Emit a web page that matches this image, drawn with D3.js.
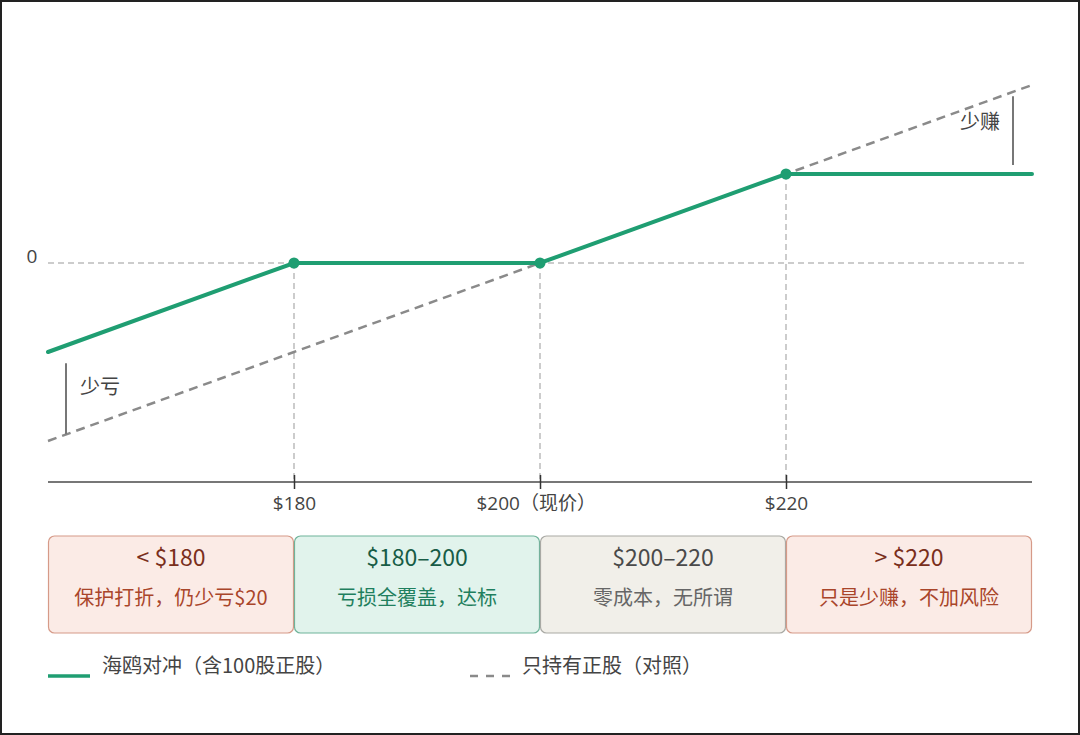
<!DOCTYPE html>
<html lang="zh">
<head>
<meta charset="utf-8">
<title>海鸥对冲 收益图</title>
<script src="https://cdn.jsdelivr.net/npm/d3@7"></script>
<style>
html, body { margin: 0; padding: 0; background: #fff; }
svg { display: block; font-family: "Noto Sans CJK SC", "Noto Sans", sans-serif; }
</style>
</head>
<body>
<div id="chart"></div>
<script>
// data
var prices = [160, 180, 200, 220, 240];
var hedgePnl = [-20, 0, 0, 20, 20];
var stockPnl = [-40, -20, 0, 20, 40];
var keyPrices = [180, 200, 220];
var tickLabels = ["$180", "$200（现价）", "$220"];
var zoneTitles = ["< $180", "$180–200", "$200–220", "> $220"];
var zoneNotes = ["保护打折，仍少亏$20", "亏损全覆盖，达标", "零成本，无所谓", "只是少赚，不加风险"];
var zoneBounds = [160, 180, 200, 220, 240];
var legendNames = ["海鸥对冲（含100股正股）", "只持有正股（对照）"];

var W = 1080, H = 735;
var green = "#1f9e72", grey = "#8a8a8a";

var svg = d3.select("#chart").append("svg")
    .attr("width", W).attr("height", H);

svg.append("rect")
    .attr("x", 1).attr("y", 1).attr("width", W - 2).attr("height", H - 2)
    .attr("fill", "#fff").attr("stroke", "#222").attr("stroke-width", 2);

var x = d3.scaleLinear().domain([160, 240]).range([48, 1032]);
var y = d3.scaleLinear().domain([-40, 40]).range([441, 85]);
var axisY = 482;

var hedge = prices.map(function(p, i) { return [p, hedgePnl[i]]; });
var stock = prices.map(function(p, i) { return [p, stockPnl[i]]; });
var line = d3.line().x(function(d) { return x(d[0]); }).y(function(d) { return y(d[1]); });

// zero line
svg.append("line")
    .attr("x1", x(160)).attr("x2", x(240) - 4)
    .attr("y1", y(0)).attr("y2", y(0))
    .attr("stroke", "#999").attr("stroke-width", 1).attr("stroke-dasharray", "6,4");
svg.append("text")
    .attr("x", 32).attr("y", 258).attr("dominant-baseline", "middle")
    .attr("text-anchor", "middle").attr("font-size", 19).attr("fill", "#444")
    .attr("font-family", "'Open Sans', sans-serif")
    .text("0");

// vertical guides
keyPrices.forEach(function(p) {
  var v = hedgePnl[prices.indexOf(p)];
  svg.append("line")
      .attr("x1", x(p)).attr("x2", x(p))
      .attr("y1", y(v)).attr("y2", axisY)
      .attr("stroke", "#999").attr("stroke-width", 1).attr("stroke-dasharray", "6,4");
});

// x axis
var xAxis = d3.axisBottom(x).tickValues(keyPrices).tickSize(7)
    .tickFormat(function(d, i) { return tickLabels[i]; });
var ax = svg.append("g").attr("transform", "translate(0," + axisY + ")").call(xAxis);
ax.select(".domain").attr("stroke", "#777").attr("stroke-width", 2)
    .attr("d", "M" + x(160) + ",0H" + x(240));
ax.selectAll(".tick line").attr("stroke", "#333").attr("stroke-width", 1.5).attr("y1", -7);
ax.selectAll(".tick text").attr("font-size", 19).attr("fill", "#444")
    .attr("font-family", "'Open Sans', 'Noto Sans CJK SC', sans-serif").attr("dy", "0.95em");
ax.selectAll(".tick text").filter(function(d) { return d === 200; })
    .attr("text-anchor", "start").attr("dx", -64);

// stock only (dashed)
svg.append("path").datum(stock)
    .attr("d", line).attr("fill", "none")
    .attr("stroke", grey).attr("stroke-width", 2.5).attr("stroke-dasharray", "9,6");

// hedge line
svg.append("path").datum(hedge)
    .attr("d", line).attr("fill", "none")
    .attr("stroke", green).attr("stroke-width", 4).attr("stroke-linecap", "round");

svg.selectAll("circle.kp").data(keyPrices).enter().append("circle")
    .attr("cx", function(d) { return x(d); })
    .attr("cy", function(d) { return y(hedgePnl[prices.indexOf(d)]); })
    .attr("r", 5.5).attr("fill", green);

// annotations
svg.append("line")
    .attr("x1", 66).attr("x2", 66).attr("y1", y(-22.5)).attr("y2", y(-38.5))
    .attr("stroke", "#777").attr("stroke-width", 2);
svg.append("text").attr("x", 80).attr("y", 389).attr("dominant-baseline", "middle")
    .attr("font-size", 20).attr("fill", "#444").text("少亏");

svg.append("line")
    .attr("x1", 1013).attr("x2", 1013).attr("y1", y(37.5)).attr("y2", y(22))
    .attr("stroke", "#777").attr("stroke-width", 2);
svg.append("text").attr("x", 1000).attr("y", 124).attr("dominant-baseline", "middle")
    .attr("text-anchor", "end").attr("font-size", 20).attr("fill", "#444").text("少赚");

// zone boxes
var fills = ["#fbebe6", "#e1f3ec", "#f1efe9", "#fbebe6"];
var strokes = ["#d69a88", "#6fb39a", "#a9a9a4", "#d69a88"];
var titleColors = ["#7a2f1c", "#175c46", "#4a4a4a", "#7a2f1c"];
var noteColors = ["#a9452a", "#1f7f5e", "#666", "#a9452a"];
zoneTitles.forEach(function(t, i) {
  var x0 = x(zoneBounds[i]) + 0.5, x1 = x(zoneBounds[i + 1]) - 0.5;
  var g = svg.append("g");
  g.append("rect")
      .attr("x", x0).attr("y", 536).attr("width", x1 - x0).attr("height", 97)
      .attr("rx", 6).attr("fill", fills[i]).attr("stroke", strokes[i]).attr("stroke-width", 1.2);
  g.append("text").attr("x", (x0 + x1) / 2).attr("y", 560).attr("dominant-baseline", "middle")
      .attr("text-anchor", "middle").attr("font-size", 23).attr("fill", titleColors[i]).text(t);
  g.append("text").attr("x", (x0 + x1) / 2).attr("y", 600).attr("dominant-baseline", "middle")
      .attr("text-anchor", "middle").attr("font-size", 20).attr("fill", noteColors[i]).text(zoneNotes[i]);
});

// legend
svg.append("line").attr("x1", 48).attr("x2", 90).attr("y1", 676).attr("y2", 676)
    .attr("stroke", green).attr("stroke-width", 3.5);
svg.append("text").attr("x", 102).attr("y", 668).attr("dominant-baseline", "middle")
    .attr("font-size", 20).attr("fill", "#444").text(legendNames[0]);
svg.append("line").attr("x1", 470).attr("x2", 512).attr("y1", 676).attr("y2", 676)
    .attr("stroke", grey).attr("stroke-width", 2.5).attr("stroke-dasharray", "8,8");
svg.append("text").attr("x", 522).attr("y", 668).attr("dominant-baseline", "middle")
    .attr("font-size", 20).attr("fill", "#444").text(legendNames[1]);
</script>
</body>
</html>
